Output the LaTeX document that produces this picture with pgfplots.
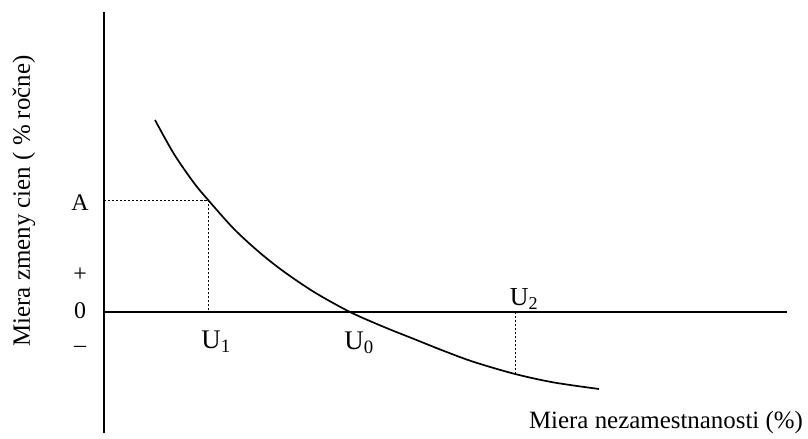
\documentclass[border=0pt]{standalone}
\usepackage{fontspec}
\setmainfont{Liberation Serif}
\usepackage{pgfplots}
\pgfplotsset{compat=1.18}
\begin{document}
\begin{tikzpicture}
  \begin{axis}[
      x=1bp, y=1bp,
      xmin=0, xmax=683, ymin=-121, ymax=300,
      axis x line=middle, axis y line=left,
      axis line style={-, black, line width=1.1bp},
      xtick=\empty,
      ytick={-37,1,37,109},
      yticklabels={–,0,+,A},
      major tick length=0pt,
      yticklabel style={anchor=center, xshift=-24bp, font=\fontsize{24}{28}\selectfont},
      clip=false,
      xlabel={Miera nezamestnanosti (\%)},
      ylabel={Miera zmeny cien ( \% ročne)},
      every axis x label/.style={at={(axis cs:562,-111)}, anchor=center, font=\fontsize{25}{29}\selectfont},
      every axis y label/.style={at={(axis cs:-80,111)}, rotate=90, anchor=center, font=\fontsize{25}{29}\selectfont},
    ]
    % Phillipsova krivka
    \addplot[smooth, black, line width=1.7bp] coordinates {
      (51,192) (70,158) (90,129) (105,111) (130,83) (155,60) (179,41)
      (210,20) (246,0) (280,-15) (310,-27) (340,-39) (370,-50)
      (411,-62) (450,-70.5) (495,-77)};
    \addplot[black, line width=1bp, dash pattern=on 2.5bp off 1.5bp] coordinates {(0,111) (105,111) (105,0)};
    \addplot[black, line width=1bp, dash pattern=on 2.5bp off 1.5bp] coordinates {(411,0) (411,-62)};
    \node[font=\fontsize{27}{31}\selectfont] at (axis cs:112,-30) {U\textsubscript{1}};
    \node[font=\fontsize{27}{31}\selectfont] at (axis cs:255,-31) {U\textsubscript{0}};
    \node[font=\fontsize{26}{30}\selectfont] at (axis cs:420,13) {U\textsubscript{2}};
    \coordinate (bl) at (axis cs:-104,-127);
    \coordinate (tr) at (axis cs:704,312);
  \end{axis}
  \pgfresetboundingbox
  \useasboundingbox (bl) rectangle (tr);
\end{tikzpicture}
\end{document}
